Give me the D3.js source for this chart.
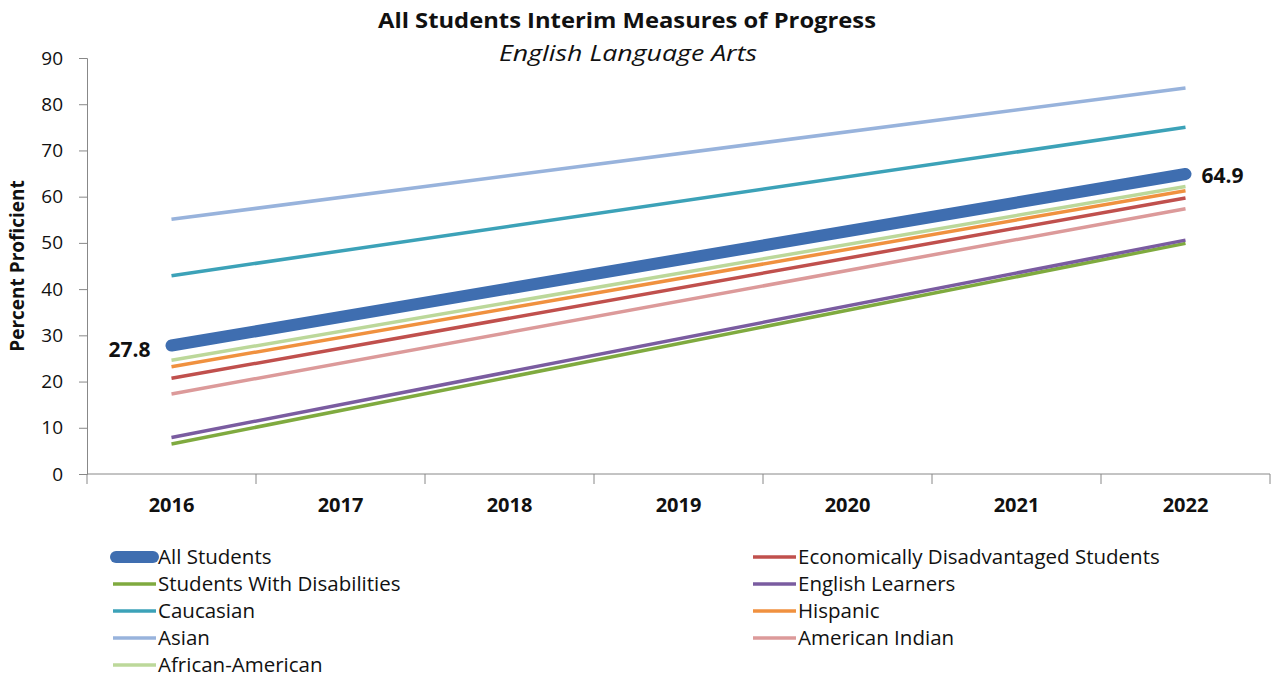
<!DOCTYPE html>
<html>
<head>
<meta charset="utf-8">
<script src="https://cdn.jsdelivr.net/npm/d3@7"></script>
<style>
  body { margin: 0; background: #fff; }
  text { font-family: "Open Sans", "Noto Sans", sans-serif; fill: #111; }
</style>
</head>
<body>
<script>
const width = 1280;
const height = 679;

const years = ['2016', '2017', '2018', '2019', '2020', '2021', '2022'];
const yTicks = [0, 10, 20, 30, 40, 50, 60, 70, 80, 90];

// targets: start (2016) and end (2022) of each straight line
const seriesNames = ['All Students', 'Economically Disadvantaged Students', 'Students With Disabilities', 'English Learners',
    'Caucasian', 'Hispanic', 'Asian', 'American Indian', 'African-American'];
const startValues = [27.8, 20.7, 6.5, 7.9, 42.9, 23.2, 55.1, 17.3, 24.6];
const endValues = [64.9, 59.7, 49.9, 50.6, 75.0, 61.3, 83.5, 57.4, 62.2];
const seriesColors = ['#3f6eb0', '#c0504d', '#7faa3f', '#7a5ca0', '#3ca2b8', '#f0913f', '#98b3dc', '#dc9a9a', '#bcd89a'];

const svg = d3.select('body').append('svg').attr('width', width).attr('height', height);

const x = d3.scaleBand().domain(years).range([87, 1270]);
const y = d3.scaleLinear().domain([0, 90]).range([474, 58]);

// title
svg.append('text').attr('x', 627).attr('y', 28).attr('text-anchor', 'middle')
    .attr('textLength', 498).attr('lengthAdjust', 'spacingAndGlyphs')
    .style('font-size', '21px').style('font-weight', 'bold').text('All Students Interim Measures of Progress');
svg.append('text').attr('x', 628).attr('y', 61).attr('text-anchor', 'middle')
    .attr('textLength', 258).attr('lengthAdjust', 'spacingAndGlyphs')
    .style('font-size', '21px').style('font-style', 'italic').text('English Language Arts');

// y axis
const yAxis = svg.append('g').attr('transform', 'translate(87,0)')
    .call(d3.axisLeft(y).tickValues(yTicks).tickSize(8).tickPadding(16));
yAxis.select('.domain').attr('stroke', '#888');
yAxis.selectAll('.tick line').attr('stroke', '#888');
yAxis.selectAll('.tick text').style('font-size', '19px').style('font-family', '"Open Sans", sans-serif').attr('fill', '#111');

svg.append('text').attr('transform', 'translate(24,266) rotate(-90)').attr('text-anchor', 'middle')
    .style('font-size', '19px').style('font-weight', 'bold').text('Percent Proficient');

// x axis: ticks at band boundaries
const xAxisG = svg.append('g').attr('transform', 'translate(0,474)');
xAxisG.append('line').attr('x1', 87).attr('x2', 1270).attr('stroke', '#888');
const boundaries = years.map(d => x(d)).concat([x.range()[1]]);
xAxisG.selectAll('line.tick').data(boundaries).enter().append('line').attr('class', 'tick')
    .attr('x1', d => d).attr('x2', d => d).attr('y1', 0).attr('y2', 10).attr('stroke', '#888');
xAxisG.selectAll('text').data(years).enter().append('text')
    .attr('x', d => x(d) + x.bandwidth() / 2).attr('y', 38).attr('text-anchor', 'middle')
    .style('font-size', '20px').style('font-weight', 'bold').text(d => d);

// lines
const series = seriesNames.map((name, i) => ({
    name: name,
    color: seriesColors[i],
    points: [{year: years[0], value: startValues[i]}, {year: years[years.length - 1], value: endValues[i]}]
}));

const line = d3.line().x(d => x(d.year) + x.bandwidth() / 2).y(d => y(d.value));

const drawOrder = series.slice(1).concat([series[0]]);
svg.selectAll('path.series').data(drawOrder).enter().append('path').classed('series', true)
    .attr('d', d => line(d.points)).attr('fill', 'none').attr('stroke', d => d.color)
    .attr('stroke-width', d => d.name === 'All Students' ? 12 : 3.5)
    .attr('stroke-linecap', d => d.name === 'All Students' ? 'round' : 'butt');

// data labels on All Students
const all = series[0];
svg.append('text').attr('x', line.x()(all.points[0]) - 21).attr('y', y(all.points[0].value) + 11)
    .attr('text-anchor', 'end').style('font-size', '21px').style('font-weight', 'bold').text(all.points[0].value.toFixed(1));
svg.append('text').attr('x', line.x()(all.points[1]) + 16).attr('y', y(all.points[1].value) + 9)
    .attr('text-anchor', 'start').style('font-size', '21px').style('font-weight', 'bold').text(all.points[1].value.toFixed(1));

// legend, two columns filled row by row
const legend = svg.selectAll('g.legend').data(series).enter().append('g').classed('legend', true)
    .attr('transform', (d, i) => `translate(${i % 2 === 0 ? 113 : 753},${557 + Math.floor(i / 2) * 27})`);
legend.append('line').attr('x1', d => d.name === 'All Students' ? 3 : 0).attr('x2', d => d.name === 'All Students' ? 40 : 43)
    .attr('stroke', d => d.color)
    .attr('stroke-width', d => d.name === 'All Students' ? 12 : 3.5)
    .attr('stroke-linecap', d => d.name === 'All Students' ? 'round' : 'butt');
legend.append('text').attr('x', 45).attr('y', 7).style('font-size', '20.5px').text(d => d.name);
</script>
</body>
</html>
